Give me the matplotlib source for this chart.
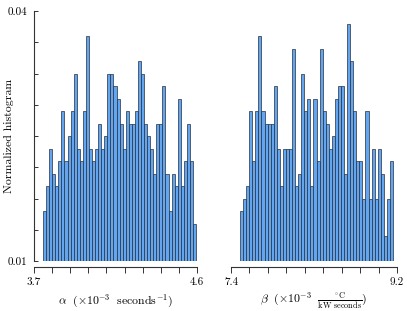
import numpy as np
import matplotlib
matplotlib.use('Agg')
import matplotlib.pyplot as plt

plt.rcParams['font.family'] = 'cmr10'
plt.rcParams['mathtext.fontset'] = 'cm'
plt.rcParams['axes.formatter.use_mathtext'] = True

# normalized histogram heights (50 bins each)
alpha_hist = [0.016, 0.019, 0.0235, 0.0205, 0.019, 0.022, 0.028, 0.022, 0.025, 0.028,
              0.0325, 0.0235, 0.022, 0.028, 0.037, 0.0235, 0.022, 0.0235, 0.0265, 0.0235,
              0.025, 0.0325, 0.0325, 0.031, 0.0295, 0.0265, 0.0235, 0.028, 0.0265, 0.0265,
              0.028, 0.034, 0.0325, 0.0265, 0.025, 0.0235, 0.0205, 0.0265, 0.0265, 0.031,
              0.0205, 0.016, 0.0205, 0.019, 0.0295, 0.019, 0.022, 0.0265, 0.022, 0.0145]
beta_hist = [0.016, 0.0175, 0.019, 0.028, 0.022, 0.028, 0.037, 0.028, 0.0265, 0.0265,
             0.0265, 0.031, 0.0235, 0.019, 0.0235, 0.0235, 0.0235, 0.0355, 0.019, 0.0205,
             0.0325, 0.028, 0.0295, 0.019, 0.0295, 0.022, 0.0355, 0.028, 0.0265, 0.0235,
             0.025, 0.0295, 0.031, 0.031, 0.0205, 0.0385, 0.034, 0.028, 0.022, 0.022,
             0.0175, 0.028, 0.0175, 0.0235, 0.0175, 0.0235, 0.0205, 0.013, 0.0175, 0.022]
alpha_range = [3.75, 4.595]
beta_range = [7.498, 9.157]
alpha_ticks = [3.7, 4.6]
beta_ticks = [7.4, 9.2]
y_ticks = [0.01, 0.04]

face = '#63a5ee'
edge = '#26303f'

W, H = 407, 311
fig = plt.figure(figsize=(W / 100, H / 100), dpi=100)
ax1 = fig.add_axes([34 / W, 1 - 261 / H, 163 / W, 250 / H])
ax2 = fig.add_axes([231 / W, 1 - 261 / H, 166 / W, 250 / H], sharey=ax1)


def draw(ax, vals, rng, ticks, step):
    edges = np.linspace(rng[0], rng[1], len(vals) + 1)
    ax.bar(edges[:-1], vals, width=np.diff(edges), align='edge',
           color=face, edgecolor=edge, linewidth=0.5)
    ax.set_xlim(ticks[0], ticks[1])
    ax.set_ylim(y_ticks[0], y_ticks[1])
    ax.spines['top'].set_visible(False)
    ax.spines['right'].set_visible(False)
    ax.spines['bottom'].set_position(('outward', 4))
    ax.spines['bottom'].set_color('#333333')
    ax.spines['left'].set_color('#333333')
    minor = np.arange(ticks[0], ticks[1] + step / 2, step)
    ax.set_xticks(minor, minor=True)
    ax.set_xticks(ticks)
    ax.set_xticklabels(['%.1f' % t for t in ticks])
    ax.tick_params(axis='x', which='both', direction='out', length=4,
                   width=0.7, color='#333333', labelsize=8, pad=4)


draw(ax1, alpha_hist, alpha_range, alpha_ticks, 0.1)
draw(ax2, beta_hist, beta_range, beta_ticks, 0.2)

ax1.set_yticks(np.linspace(y_ticks[0], y_ticks[1], 9), minor=True)
ax1.set_yticks(y_ticks)
ax1.set_yticklabels(['%.2f' % t for t in y_ticks])
ax1.tick_params(axis='y', which='both', direction='in', length=3,
                width=0.7, color='#333333', labelsize=8, pad=5)
ax1.set_ylabel('Normalized histogram', fontsize=8.5)
ax1.yaxis.set_label_coords(-0.125, 0.5)

ax2.spines['left'].set_visible(False)
ax2.tick_params(axis='y', which='both', left=False, labelleft=False)

ax1.set_xlabel(r'$\alpha\ \ (\times10^{-3}\ \ \mathrm{seconds}^{-1})$', fontsize=8.5, labelpad=4)
ax2.set_xlabel(r'$\beta\ \ (\times10^{-3}\ \ \frac{^\circ\mathrm{C}}{\mathrm{kW\ seconds}})$',
               fontsize=8.5, labelpad=2)

fig.savefig('out.png', dpi=100)
